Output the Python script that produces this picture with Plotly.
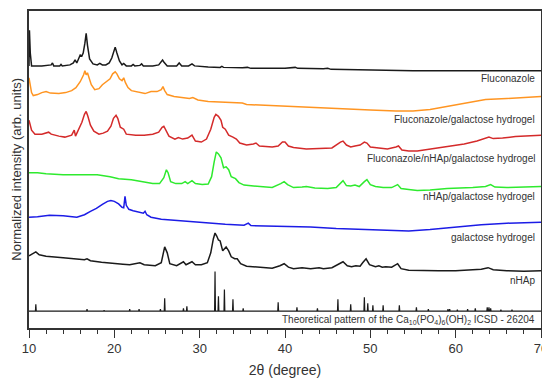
import plotly.graph_objects as go

# ---------------- data (2θ in degrees, normalized intensity, arb. units) ----------------
flu_x = [10.0, 10.05, 10.15, 10.3, 11.5, 12.6, 12.75, 12.9, 13.6, 13.75, 13.9, 14.8, 15.2, 15.4, 15.6, 15.9, 16.0, 16.2,
         16.35, 16.55, 16.7, 16.85, 17.1, 17.5, 18.0, 18.3, 18.6, 19.0, 19.4, 19.7, 19.9, 20.1, 20.3, 20.6, 20.9, 21.1,
         21.4, 22.0, 22.2, 22.4, 23.0, 23.2, 23.4, 24.5, 25.2, 25.5, 25.65, 25.8, 26.2, 27.3, 27.6, 27.9, 28.7, 29.1,
         29.4, 31.0, 32.4, 32.6, 32.8, 35.0, 35.6, 36.0, 40.0, 41.2, 41.5, 44.5, 45.0, 45.4, 50.0, 55.0, 70.0]
flu_y = [265, 301, 278, 265, 265, 266, 268, 265, 265, 266.5, 265, 266, 268, 271, 268, 274, 276, 275,
         278, 288, 298, 286, 272, 267, 266, 267.5, 266, 266, 268, 273, 280, 284, 278, 270, 266, 267.5,
         265, 265, 266.5, 265, 265.5, 267, 265, 265, 266, 269, 271, 269, 265, 265, 268, 265, 265, 267,
         265, 264, 263.5, 264.5, 263.5, 263, 263.5, 262.5, 262.5, 263.5, 262.5, 262, 262.5, 261.5, 261, 260, 260]

flu_gal_x = [10.0, 10.1, 10.3, 10.5, 11.0, 11.5, 12.0, 12.5, 13.5, 14.3, 15.0, 15.5, 16.0, 16.4, 16.55, 16.7, 16.85,
             17.0, 17.3, 17.7, 18.2, 18.6, 19.1, 19.5, 19.8, 20.1, 20.3, 20.6, 20.9, 21.1, 21.3, 21.6, 22.0, 23.0,
             23.6, 24.3, 25.0, 25.5, 25.7, 25.9, 26.2, 27.0, 28.0, 28.8, 29.2, 29.8, 31.0, 33.0, 34.5, 35.0, 35.5,
             38.0, 40.0, 42.0, 44.0, 47.0, 50.0, 53.0, 55.0, 57.0, 59.0, 61.5, 63.5, 66.0, 70.0]
flu_gal_y = [253, 246, 238, 235, 236, 238, 239, 237.5, 237, 238, 240, 243, 249, 256, 260, 256, 258,
             254, 246, 241, 242, 246, 249, 252, 257, 259, 257, 252, 250, 253, 248, 243, 240, 238,
             237, 239, 239, 241, 244, 240, 236, 234, 233, 232, 233, 230.5, 229, 228, 227, 227.5, 226,
             225, 224, 223, 222.5, 221.5, 220.5, 219.5, 219.5, 221, 224, 228, 231, 232, 234]

flu_nhap_gal_x = [10.0, 10.1, 10.3, 10.7, 11.5, 12.3, 12.6, 13.5, 14.2, 15.0, 15.3, 15.45, 15.8, 16.2, 16.5, 16.7,
                  16.9, 17.2, 17.6, 18.2, 18.7, 19.2, 19.6, 19.9, 20.2, 20.4, 20.7, 21.1, 21.4, 22.5, 23.5, 24.5,
                  25.2, 25.6, 25.8, 26.1, 26.4, 27.1, 27.5, 28.0, 28.6, 29.1, 29.5, 30.2, 30.8, 31.3, 31.7, 31.9,
                  32.2, 32.5, 32.7, 33.0, 33.4, 33.9, 34.3, 34.7, 35.5, 36.3, 36.6, 37.0, 38.5, 39.2, 39.7, 40.0,
                  40.4, 41.0, 42.5, 44.0, 45.5, 46.5, 46.8, 47.2, 47.7, 48.2, 48.8, 49.3, 49.6, 50.0, 51.0, 52.0,
                  53.0, 53.3, 53.7, 54.5, 55.5, 57.0, 59.0, 61.0, 62.5, 63.5, 63.9, 64.4, 65.5, 67.0, 70.0]
flu_nhap_gal_y = [210, 206, 200, 196, 196, 198, 196, 194, 193, 195, 200, 194, 200, 208, 216, 219,
                  214, 205, 199, 196, 197, 199, 204, 212, 215, 212, 203, 201, 196, 195, 195, 196,
                  198, 203, 204, 199, 194, 191, 192.5, 191, 192, 195, 189, 188, 191, 201, 213, 216,
                  214, 210, 203, 201, 195, 193, 191, 187, 185, 186, 187, 184, 183, 184, 188, 188,
                  184, 182.5, 181, 181.5, 182, 188, 189, 185, 183, 184, 185, 188, 187, 183, 182, 181,
                  183, 184, 180, 179, 179, 181, 184, 186, 189, 192, 193, 191.5, 192, 193.5, 195]

nhap_gal_x = [10.0, 11.0, 12.0, 14.0, 16.0, 18.0, 19.5, 20.5, 22.0, 23.5, 24.5, 25.3, 25.8, 26.1, 26.3, 26.6, 27.2,
              27.9, 28.3, 28.6, 29.1, 29.5, 30.3, 31.0, 31.4, 31.7, 31.95, 32.2, 32.5, 32.8, 33.1, 33.4, 33.7,
              34.2, 34.6, 35.2, 36.5, 37.5, 38.5, 39.5, 39.9, 40.3, 41.0, 42.0, 42.5, 43.5, 45.0, 46.0, 46.5,
              46.8, 47.2, 47.7, 48.2, 48.7, 49.3, 49.6, 50.0, 50.6, 51.5, 52.5, 53.2, 53.6, 54.5, 55.5, 57.0,
              59.0, 62.0, 63.5, 64.1, 64.6, 66.0, 68.0, 70.0]
nhap_gal_y = [157, 157, 156, 155, 155, 155, 153, 151, 150, 148, 146, 146, 152, 160, 157, 148, 146,
              146, 148, 146, 149, 146, 145, 145.5, 153, 168, 178, 176, 172, 162, 163, 160, 153,
              151, 147, 144.5, 143.5, 143, 142, 146, 148, 145, 142, 142.5, 143, 141.5, 141, 142, 146,
              149, 144, 143.5, 144.5, 143, 148, 150, 145, 143, 142, 142, 145, 141, 140, 139, 139.5,
              141, 142, 143, 145, 142.5, 142, 142.5, 143]

gal_x = [10.0, 11.0, 12.4, 14.0, 15.6, 16.5, 17.2, 17.9, 18.6, 19.2, 19.6, 20.0, 20.5, 20.9, 21.1, 21.25, 21.4,
         21.7, 22.2, 22.8, 23.4, 23.6, 23.8, 24.3, 25.5, 27.0, 29.0, 31.0, 33.0, 35.2, 35.7, 36.0, 38.0, 40.0,
         43.0, 46.0, 50.0, 52.5, 54.5, 57.0, 60.0, 63.0, 66.0, 70.0]
gal_y = [112, 112.5, 114, 113.5, 112, 114.5, 118, 121, 125, 128, 129, 128, 125.5, 122, 121.5, 133, 124,
         120, 118.5, 117, 116, 118, 114.5, 112, 110, 109, 107.5, 106, 105, 104, 106, 103.5, 103, 103,
         102, 100.5, 99, 98, 98, 99.5, 102, 104.5, 106, 107]

nhap_x = [10.0, 10.4, 10.8, 11.2, 12.0, 14.0, 15.5, 16.5, 16.8, 17.2, 18.5, 20.0, 21.0, 21.8, 22.5, 23.0, 23.5,
          24.8, 25.5, 25.9, 26.2, 26.5, 27.3, 27.8, 28.1, 28.4, 28.8, 29.1, 29.5, 30.2, 30.9, 31.3, 31.6, 31.8,
          32.0, 32.2, 32.4, 32.7, 33.1, 33.4, 33.7, 34.1, 34.4, 34.8, 35.5, 36.3, 37.0, 38.5, 39.4, 39.9, 40.4,
          41.0, 42.0, 43.0, 44.0, 44.5, 45.5, 46.2, 46.8, 47.3, 47.8, 48.3, 48.8, 49.1, 49.5, 49.9, 50.6, 51.0,
          51.4, 51.8, 52.5, 53.2, 53.6, 54.5, 56.0, 58.0, 60.0, 62.0, 63.0, 63.8, 64.4, 66.0, 68.0, 70.0]
nhap_y = [73, 75, 77, 74, 72.5, 71, 70, 69, 70, 68, 66.5, 65, 64.5, 64, 65.5, 66, 64,
          63, 66, 82, 76, 65, 63, 65, 67, 64, 66, 67, 64, 64, 66, 76, 90, 96,
          93, 89, 88, 78, 82, 78, 72, 70, 70, 65, 62.5, 62, 61, 60.5, 63, 65, 61.5,
          60, 61, 60, 61, 60, 61, 64, 67, 63, 62, 63, 62.5, 66, 70, 64, 62, 63,
          61.5, 62, 61.5, 65, 60, 58.5, 58, 58, 58, 59, 59.5, 61, 59, 58, 57.5, 58]

# Theoretical HAp (ICSD 26204) reflections
theo_base = 17
theo_pos = [10.8, 16.8, 18.8, 21.8, 22.9, 25.4, 25.9, 28.1, 28.5, 31.8, 32.2, 32.9, 33.9, 35.1, 39.2, 41.4,
            43.8, 46.2, 47.7, 49.3, 49.7, 50.3, 51.5, 53.4, 55.4, 56.8, 59.1, 59.3, 60.2, 61.4, 62.3, 63.7,
            63.9, 64.1, 65.3, 66.6]
theo_int = [24, 19, 18, 19, 19, 19, 30, 20, 22, 57, 32, 39, 29, 20, 26, 21,
            20, 29, 24, 31, 25, 23, 23, 23, 21, 19, 19, 19, 18.5, 19, 20, 21,
            21, 20, 18.5, 18.5]

labels = ["Fluconazole", "Fluconazole/galactose hydrogel", "Fluconazole/nHAp/galactose hydrogel",
          "nHAp/galactose hydrogel", "galactose hydrogel", "nHAp",
          "Theoretical pattern of the Ca<sub>10</sub>(PO<sub>4</sub>)<sub>6</sub>(OH)<sub>2</sub> ICSD - 26204"]
label_y = [252, 211, 171, 133, 92, 48, 8]

x_ticks = [10, 20, 30, 40, 50, 60, 70]

# ---------------- figure ----------------
fig = go.Figure()

series = [
    (flu_x, flu_y, "#1a1a1a"),
    (flu_gal_x, flu_gal_y, "#ff9522"),
    (flu_nhap_gal_x, flu_nhap_gal_y, "#d42a2a"),
    (nhap_gal_x, nhap_gal_y, "#2eea2e"),
    (gal_x, gal_y, "#1c1ce6"),
    (nhap_x, nhap_y, "#1a1a1a"),
]
for xs, ys, c in series:
    fig.add_trace(go.Scatter(x=xs, y=ys, mode="lines", line=dict(color=c, width=1.5),
                             showlegend=False, hoverinfo="skip"))

# stick pattern built from reflection positions/intensities
sx, sy = [10.0], [theo_base]
for p, h in zip(theo_pos, theo_int):
    sx += [p - 0.05, p, p + 0.05]
    sy += [theo_base, h, theo_base]
sx.append(70.0)
sy.append(theo_base)
fig.add_trace(go.Scatter(x=sx, y=sy, mode="lines", line=dict(color="#1a1a1a", width=1.2),
                         showlegend=False, hoverinfo="skip"))

font_family = "Liberation Sans, Arial, sans-serif"
for t, yy in zip(labels, label_y):
    fig.add_annotation(x=0.992, xref="paper", y=yy, yref="y", text=t, showarrow=False,
                       xanchor="right", yanchor="middle",
                       font=dict(family=font_family, size=10, color="#333333"))

fig.add_annotation(x=-0.025, xref="paper", y=0.5, yref="paper", text="Normalized intensity (arb. units)",
                   textangle=-90, showarrow=False, xanchor="center", yanchor="middle",
                   font=dict(family=font_family, size=13, color="#333333"))

# page body has an 8 px margin, so the figure is sized/margined to land the plot at the reference position
fig.update_layout(
    width=542, height=378,
    margin=dict(l=21, r=9, t=1, b=58),
    paper_bgcolor="white", plot_bgcolor="white",
    font=dict(family=font_family, color="#333333"),
    xaxis=dict(range=[10, 70], tickvals=x_ticks, ticks="outside", ticklen=8, tickwidth=1.3,
               tickcolor="#333333", showline=True, linecolor="#333333", linewidth=1.5, mirror=True,
               showgrid=False, zeroline=False, tickfont=dict(size=13, color="#333333"),
               minor=dict(dtick=2, ticks="outside", ticklen=4, tickwidth=1.1, tickcolor="#333333"),
               title=dict(text="2θ (degree)", font=dict(size=14, color="#333333"), standoff=10)),
    yaxis=dict(range=[0, 320.5], showticklabels=False, ticks="", showline=True, linecolor="#333333",
               linewidth=1.5, mirror=True, showgrid=False, zeroline=False),
)

fig.write_html("out.html")
